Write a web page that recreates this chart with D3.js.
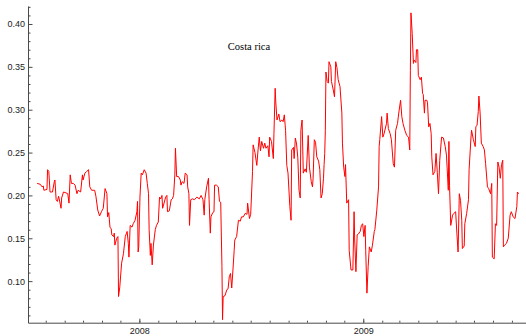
<!DOCTYPE html>
<html>
<head>
<meta charset="utf-8">
<script src="https://cdn.jsdelivr.net/npm/d3@7"></script>
<style>
  html, body { margin: 0; padding: 0; background: #fff; }
  svg { display: block; }
</style>
</head>
<body>
<svg id="chart" width="526" height="336"></svg>
<script>
// Costa rica daily series, Jul 2007 – Sep 2009
const title = "Costa rica";

const dates = [
  "2007-07-18","2007-07-23","2007-07-26","2007-07-28","2007-07-29",
  "2007-08-03","2007-08-04","2007-08-06","2007-08-08","2007-08-12","2007-08-15","2007-08-16","2007-08-18","2007-08-20","2007-08-22","2007-08-23","2007-08-26","2007-08-27","2007-08-30",
  "2007-09-03","2007-09-06","2007-09-08","2007-09-10","2007-09-12","2007-09-15","2007-09-18","2007-09-21","2007-09-23","2007-09-27","2007-09-30",
  "2007-10-01","2007-10-04","2007-10-07","2007-10-10","2007-10-12","2007-10-15","2007-10-20","2007-10-22","2007-10-25","2007-10-28","2007-10-31",
  "2007-11-03","2007-11-06","2007-11-09","2007-11-10","2007-11-12","2007-11-14","2007-11-16","2007-11-17","2007-11-20","2007-11-21","2007-11-22","2007-11-25","2007-11-27","2007-11-28","2007-11-30",
  "2007-12-03","2007-12-06","2007-12-09","2007-12-12","2007-12-14","2007-12-15","2007-12-17","2007-12-20","2007-12-22","2007-12-25","2007-12-28","2007-12-29","2007-12-30","2007-12-31",
  "2008-01-02","2008-01-04","2008-01-06","2008-01-09","2008-01-12","2008-01-14","2008-01-16","2008-01-17","2008-01-19","2008-01-20","2008-01-22","2008-01-24","2008-01-27","2008-01-29",
  "2008-02-01","2008-02-03","2008-02-05","2008-02-07","2008-02-08","2008-02-10","2008-02-13","2008-02-15","2008-02-16","2008-02-19","2008-02-22","2008-02-24","2008-02-26","2008-02-28","2008-02-29",
  "2008-03-02","2008-03-05","2008-03-08","2008-03-09","2008-03-11","2008-03-14","2008-03-16","2008-03-19","2008-03-20","2008-03-22","2008-03-23","2008-03-25","2008-03-28","2008-03-31",
  "2008-04-04","2008-04-08","2008-04-11","2008-04-14","2008-04-16","2008-04-17","2008-04-20","2008-04-23","2008-04-24","2008-04-26","2008-04-27","2008-04-30",
  "2008-05-02","2008-05-03","2008-05-06","2008-05-09","2008-05-11","2008-05-13","2008-05-15","2008-05-16","2008-05-17","2008-05-20","2008-05-23","2008-05-25","2008-05-27","2008-05-29","2008-05-31",
  "2008-06-02","2008-06-04","2008-06-05","2008-06-08","2008-06-11","2008-06-14","2008-06-16","2008-06-19","2008-06-22","2008-06-25","2008-06-26","2008-06-29",
  "2008-07-01","2008-07-04","2008-07-05","2008-07-08","2008-07-11","2008-07-13","2008-07-15","2008-07-17","2008-07-19","2008-07-22","2008-07-24","2008-07-26","2008-07-29","2008-07-31",
  "2008-08-01","2008-08-04","2008-08-07","2008-08-08","2008-08-10","2008-08-11","2008-08-13","2008-08-16","2008-08-18","2008-08-21","2008-08-23","2008-08-25","2008-08-27","2008-08-29","2008-08-31",
  "2008-09-03","2008-09-05","2008-09-06","2008-09-09","2008-09-10","2008-09-12","2008-09-14","2008-09-16","2008-09-18","2008-09-20","2008-09-21","2008-09-23","2008-09-25","2008-09-28","2008-09-30",
  "2008-10-03","2008-10-05","2008-10-08","2008-10-10","2008-10-11","2008-10-13","2008-10-15","2008-10-17","2008-10-20","2008-10-22","2008-10-24","2008-10-26","2008-10-28","2008-10-29","2008-10-30","2008-10-31",
  "2008-11-01","2008-11-03","2008-11-05","2008-11-06","2008-11-09","2008-11-10","2008-11-13","2008-11-15","2008-11-17","2008-11-19","2008-11-21","2008-11-24","2008-11-27","2008-11-28","2008-11-30",
  "2008-12-02","2008-12-03","2008-12-05","2008-12-08","2008-12-09","2008-12-12","2008-12-15","2008-12-17","2008-12-18","2008-12-20","2008-12-22","2008-12-24","2008-12-27","2008-12-29","2008-12-31",
  "2009-01-02","2009-01-04","2009-01-05","2009-01-07","2009-01-09","2009-01-11","2009-01-14","2009-01-16","2009-01-19","2009-01-20","2009-01-23","2009-01-26","2009-01-27","2009-01-28","2009-01-31",
  "2009-02-02","2009-02-04","2009-02-08","2009-02-09","2009-02-11","2009-02-14","2009-02-16","2009-02-19","2009-02-21","2009-02-23","2009-02-26","2009-02-28",
  "2009-03-03","2009-03-05","2009-03-07","2009-03-10","2009-03-13","2009-03-16","2009-03-18","2009-03-19","2009-03-20","2009-03-22","2009-03-24","2009-03-25","2009-03-28","2009-03-29","2009-03-31",
  "2009-04-01","2009-04-04","2009-04-06","2009-04-08","2009-04-09","2009-04-11","2009-04-12","2009-04-15","2009-04-16","2009-04-18","2009-04-20","2009-04-22","2009-04-23","2009-04-25","2009-04-28","2009-04-30",
  "2009-05-02","2009-05-04","2009-05-06","2009-05-09","2009-05-12","2009-05-15","2009-05-17","2009-05-20","2009-05-21","2009-05-22","2009-05-24","2009-05-27","2009-05-29",
  "2009-06-01","2009-06-03","2009-06-05","2009-06-07","2009-06-09","2009-06-11","2009-06-12","2009-06-15","2009-06-16","2009-06-19","2009-06-22","2009-06-23","2009-06-26","2009-06-27","2009-06-30",
  "2009-07-03","2009-07-04","2009-07-06","2009-07-08","2009-07-09","2009-07-11","2009-07-13","2009-07-16","2009-07-18","2009-07-20","2009-07-23","2009-07-25","2009-07-28","2009-07-30","2009-07-31",
  "2009-08-03","2009-08-05","2009-08-07","2009-08-09","2009-08-11","2009-08-13","2009-08-15","2009-08-17","2009-08-18","2009-08-20","2009-08-23","2009-08-26","2009-08-29","2009-08-31",
  "2009-09-03","2009-09-06","2009-09-09","2009-09-10","2009-09-12"
];

const values = [
  0.214,0.213,0.210,0.211,0.206,
  0.207,0.230,0.228,0.204,0.204,0.216,0.218,0.195,0.193,0.199,0.196,0.185,0.197,0.204,
  0.203,0.202,0.191,0.224,0.214,0.214,0.212,0.202,0.206,0.204,0.224,
  0.218,0.226,0.228,0.230,0.210,0.206,0.206,0.199,0.183,0.176,0.181,
  0.185,0.208,0.202,0.175,0.180,0.163,0.161,0.154,0.152,0.156,0.142,0.150,0.152,0.082,0.093,
  0.121,0.132,0.152,0.158,0.144,0.128,0.165,0.163,0.167,0.171,0.181,0.193,0.134,0.140,
  0.198,0.226,0.224,0.230,0.226,0.214,0.202,0.160,0.130,0.144,0.119,0.142,0.160,0.165,
  0.169,0.198,0.196,0.200,0.185,0.190,0.198,0.200,0.181,0.182,0.195,0.196,0.200,0.224,0.255,
  0.222,0.222,0.218,0.212,0.216,0.214,0.226,0.224,0.210,0.202,0.165,0.195,0.196,0.195,
  0.198,0.196,0.200,0.195,0.177,0.195,0.210,0.220,0.195,0.156,0.175,0.180,
  0.181,0.212,0.212,0.210,0.193,0.192,0.117,0.055,0.082,0.083,0.090,0.091,0.105,0.109,0.092,
  0.113,0.136,0.148,0.152,0.171,0.170,0.175,0.175,0.179,0.178,0.191,0.173,
  0.178,0.228,0.259,0.250,0.235,0.253,0.268,0.252,0.263,0.255,0.261,0.255,0.258,0.245,
  0.268,0.263,0.243,0.272,0.325,0.309,0.288,0.295,0.286,0.288,0.286,0.294,0.276,0.235,0.226,
  0.187,0.171,0.253,0.256,0.243,0.267,0.260,0.244,0.206,0.197,0.276,0.288,0.226,0.231,0.227,
  0.270,0.233,0.216,0.210,0.220,0.265,0.262,0.245,0.240,0.230,0.197,0.202,0.220,0.236,0.249,0.276,
  0.344,0.333,0.331,0.356,0.350,0.333,0.323,0.315,0.356,0.349,0.335,0.327,0.296,0.261,0.233,
  0.222,0.236,0.191,0.195,0.136,0.113,0.113,0.181,0.148,0.111,0.154,0.155,0.158,0.165,0.167,
  0.152,0.165,0.136,0.086,0.117,0.140,0.134,0.142,0.158,0.160,0.182,0.210,0.257,0.265,0.292,
  0.268,0.272,0.284,0.296,0.278,0.272,0.265,0.237,0.233,0.276,0.284,0.296,
  0.311,0.292,0.284,0.276,0.270,0.268,0.253,0.346,0.413,0.389,0.354,0.358,0.355,0.370,0.370,
  0.340,0.335,0.338,0.319,0.318,0.296,0.311,0.311,0.308,0.280,0.284,0.272,0.245,0.224,0.228,0.249,
  0.227,0.202,0.241,0.268,0.267,0.257,0.247,0.206,0.263,0.212,0.165,0.177,0.179,
  0.181,0.156,0.134,0.202,0.194,0.171,0.138,0.141,0.167,0.179,0.195,0.230,0.267,0.276,0.265,
  0.257,0.280,0.282,0.298,0.316,0.296,0.261,0.257,0.253,0.237,0.210,0.208,0.202,0.214,0.128,
  0.126,0.167,0.165,0.239,0.233,0.220,0.236,0.241,0.140,0.142,0.144,0.150,0.177,0.181,
  0.175,0.173,0.187,0.204,0.202
];

// Axis ticks
const yMajorTicks = [0.10, 0.15, 0.20, 0.25, 0.30, 0.35, 0.40];
const yMinorTicks = [0.06,0.07,0.08,0.09,0.11,0.12,0.13,0.14,0.16,0.17,0.18,0.19,0.21,0.22,0.23,0.24,
                     0.26,0.27,0.28,0.29,0.31,0.32,0.33,0.34,0.36,0.37,0.38,0.39,0.41,0.42];
const yearTicks = ["2008-01-01", "2009-01-01"];
const xDomain = ["2007-07-03", "2009-09-24"];
const yDomain = [0.0515, 0.421];

const parse = d3.timeParse("%Y-%m-%d");
const series = dates.map((d, i) => ({ date: parse(d), value: values[i] }));

const svg = d3.select("#chart");
const plotLeft = 28, plotRight = 526, plotTop = 6, plotBottom = 322.7;

const x = d3.scaleTime().domain(xDomain.map(parse)).range([plotLeft, plotRight]);
const y = d3.scaleLinear().domain(yDomain).range([plotBottom, plotTop]);

const axisColor = "#4a4a4a";
const labelFont = "'Liberation Sans', Arial, sans-serif";

function styleAxis(g) {
  g.select(".domain").attr("stroke", axisColor).attr("stroke-width", 1);
  g.selectAll(".tick line").attr("stroke", axisColor).attr("stroke-width", 1);
  g.selectAll(".tick text")
    .attr("fill", "#222")
    .style("font-family", labelFont)
    .style("font-size", "9px");
}

// Y axis: major ticks with labels, minor ticks without
svg.append("g")
  .attr("transform", `translate(${plotLeft},0)`)
  .call(d3.axisLeft(y).tickValues(yMinorTicks).tickSize(-2.5).tickSizeOuter(0).tickFormat(""))
  .call(styleAxis);
svg.append("g")
  .attr("transform", `translate(${plotLeft},0)`)
  .call(d3.axisLeft(y).tickValues(yMajorTicks).tickSize(-4.5).tickSizeOuter(0)
        .tickPadding(3).tickFormat(d3.format(".2f")))
  .call(styleAxis)
  .call(g => g.select(".domain").remove());

// X axis: monthly minor ticks, yearly labelled ticks
const [x0, x1] = x.domain();
svg.append("g")
  .attr("transform", `translate(0,${plotBottom})`)
  .call(d3.axisBottom(x).tickValues(d3.timeMonth.range(x0, x1)).tickSize(-2).tickSizeOuter(0).tickFormat(""))
  .call(styleAxis);
svg.append("g")
  .attr("transform", `translate(0,${plotBottom})`)
  .call(d3.axisBottom(x).tickValues(yearTicks.map(parse)).tickSize(-4).tickSizeOuter(0)
        .tickPadding(5).tickFormat(d3.timeFormat("%Y")))
  .call(styleAxis)
  .call(g => g.select(".domain").remove());

// Series line
const line = d3.line()
  .x(d => x(d.date))
  .y(d => y(d.value));

svg.append("path")
  .datum(series)
  .attr("fill", "none")
  .attr("stroke", "#ff0000")
  .attr("stroke-width", 1)
  .attr("stroke-linejoin", "miter")
  .attr("d", line);

// Title
svg.append("text")
  .attr("x", 249)
  .attr("y", 49.5)
  .attr("text-anchor", "middle")
  .attr("fill", "#000")
  .style("font-family", "'Liberation Serif', 'Times New Roman', serif")
  .style("font-size", "10.5px")
  .text(title);
</script>
</body>
</html>
